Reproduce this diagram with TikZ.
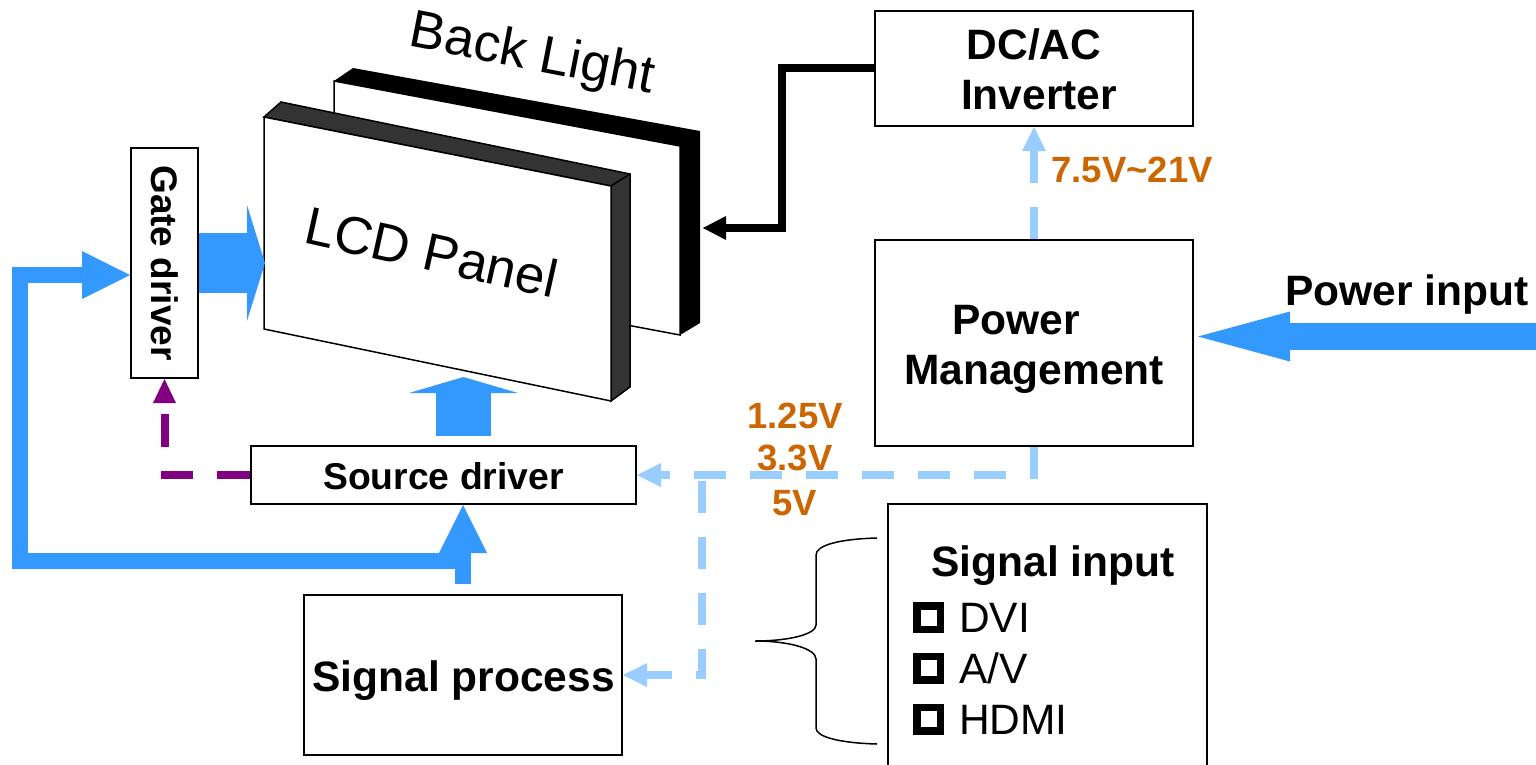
\documentclass[tikz,border=0pt]{standalone}
\usepackage{fontspec}
\setmainfont{Liberation Sans}
\usetikzlibrary{arrows.meta}

\definecolor{fatblue}{HTML}{3399FF}
\definecolor{paleblue}{HTML}{99CCFF}
\definecolor{volt}{HTML}{CC6600}
\definecolor{sidegrey}{HTML}{333333}
\definecolor{ctrlpurple}{HTML}{800080}

\newcommand{\sz}[1]{\fontsize{#1}{50}\selectfont}

\begin{document}
\begin{tikzpicture}[x=1pt,y=-1pt,
  box/.style={draw,line width=2pt,fill=white,inner sep=0pt},
  boxtext/.style={align=center,inner sep=0pt,font=\sz{42.5}\bfseries},
  voltage/.style={text=volt,inner sep=0pt,font=\sz{36.5}\bfseries},
  tick/.style={draw,line width=7.5pt,minimum size=23.5pt,inner sep=0pt},
  item/.style={anchor=base west,inner sep=0pt,font=\sz{42.5}},
  slanted/.style={inner sep=0pt,font=\sz{53}},
  fat/.style={fatblue,line width=#1},
  feed/.style={paleblue,line width=8pt,dash pattern=on 32pt off 24pt,-{Triangle[length=24pt,width=24pt,line width=0pt]}}]

\useasboundingbox (0,0) rectangle (1536,765);

% back light
\fill (334,81) -- (353,68) -- (700,131) -- (700,323) -- (680,335) -- (680,146) -- cycle;
\draw[line width=1.5pt,fill=white] (334,81) -- (680,146) -- (680,335) -- (334,270) -- cycle;
\node[slanted,rotate=-11] (backlight) at (532,56) {Back Light};

% lcd panel
\draw[line width=1.5pt,fill=sidegrey] (264,117) -- (281,102) -- (630,174) -- (630,387) -- (611,401) -- (611,186) -- cycle;
\draw[line width=1.5pt] (611,186) -- (630,174);
\draw[line width=1.5pt,fill=white] (264,117) -- (611,186) -- (611,401) -- (264,329) -- cycle;
\node[slanted,rotate=-12.5] (panel) at (432,252) {LCD Panel};

% blocks
\node[box,minimum width=67pt,minimum height=230pt] (gate) at (164.5,263) {};
\node[rotate=-90,inner sep=0pt,font=\sz{37}\bfseries] (gatetext) at (165,263) {Gate driver};
\node[box,minimum width=385pt,minimum height=58pt] (sd) at (443.5,475) {};
\node[inner sep=0pt,font=\sz{37.3}\bfseries] (sdtext) at (443.5,476) {Source driver};
\node[box,minimum width=318pt,minimum height=160pt] (sp) at (463,675) {};
\node[boxtext] (sptext) at (463.5,681) {Signal process};
\node[box,minimum width=318pt,minimum height=115pt] (inv) at (1034,68.5) {};
\node[boxtext] (invtext) at (1039,69.5) {DC/AC\hspace*{10pt}\\Inverter};
\node[box,minimum width=318pt,minimum height=206pt] (pm) at (1034,343) {};
\node[boxtext] (pmtext) at (1034,349) {Power\hspace*{36pt}\\Management};
\node[box,minimum width=319pt,minimum height=290pt] (si) at (1047.5,649) {};

% signal input list
\node[boxtext] (sititle) at (1053,566) {Signal input};
\node[tick] (tick1) at (928.5,617.5) {};
\node[tick] (tick2) at (928.5,668) {};
\node[tick] (tick3) at (928.5,719) {};
\node[item] (dvi) at (959,632) {DVI};
\node[item] (av) at (959,683) {A/V};
\node[item] (hdmi) at (959,734) {HDMI};

% brace
\draw[line width=1.5pt] (877,538) .. controls (840,539) and (816,545) .. (816,555) -- (816,625)
  .. controls (816,634) and (790,641) .. (755,641) .. controls (790,641) and (816,649) .. (816,659) -- (816,728)
  .. controls (816,737) and (840,743) .. (877,744);

% free ends
\coordinate (loop1) at (20,561);
\coordinate (loop2) at (20,275);
\coordinate (spout) at (463,584);
\coordinate (loopin) at (471,561);
\coordinate (sdup) at (463.5,436);
\coordinate (panelin) at (463.5,377);
\coordinate (gateout) at (265,263);
\coordinate (lightin) at (703,228);
\coordinate (invbend) at (782,68.5);
\coordinate (lightbend) at (782,228);
\coordinate (mains) at (1536,336.5);
\coordinate (pmin) at (1198,336.5);
\coordinate (tap) at (702,481);
\coordinate (tapbend) at (702,675);

% thick arrows
\path[fat=60pt,-{Triangle[length=18pt,width=116pt,line width=0pt]}] (gate.east) edge (gateout);
\path[fat=55pt,-{Triangle[length=16pt,width=109pt,line width=0pt]}] (sdup) edge (panelin);
\path[fat=27pt,-{Triangle[length=92pt,width=50pt,line width=0pt]}] (mains) edge (pmin);
\draw[fat=16pt,-{Triangle[length=48pt,width=48pt,line width=0pt]}] (spout) -- ([xshift=19.5pt]sd.south);
\draw[fat=16pt,-{Triangle[length=48pt,width=48pt,line width=0pt]}] (loopin) -- (loop1) -- (loop2) -- ([yshift=-12pt]gate.west);

% black feed
\draw[line width=8pt,-{Triangle[length=23pt,width=24pt,line width=0pt]}] (inv.west) -- (invbend) -- (lightbend) -- (lightin);

% dashed feeds
\draw[ctrlpurple,line width=8pt,dash pattern=on 33pt off 24pt,-{Triangle[length=24pt,width=23pt,line width=0pt]}] (sd.west) -| (gate.south);
\path[feed] (pm.north) edge (inv.south);
\draw[feed] (pm.south) |- (sd.east);
\draw[feed] (tap) -- (tapbend) -- (sp.east);

% labels
\node[voltage] (v1) at (1132,170) {7.5V\textasciitilde 21V};
\node[voltage] (v2) at (795,416) {1.25V};
\node[voltage] (v3) at (795,458) {3.3V};
\node[voltage] (v4) at (795,503) {5V};
\node[boxtext] (powerin) at (1407,295) {Power input};

\end{tikzpicture}
\end{document}
